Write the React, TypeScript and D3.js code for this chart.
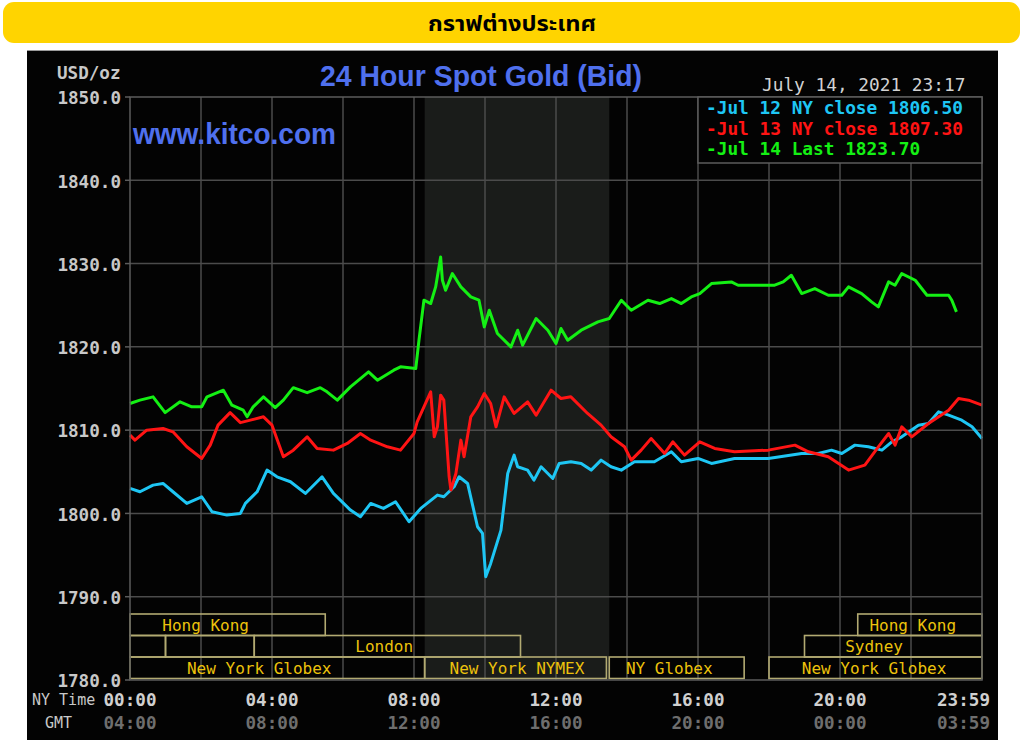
import React from "react";
import * as d3 from "d3";

// ---------- data ----------
const yTicks = [1850, 1840, 1830, 1820, 1810, 1800, 1790, 1780];
const xTickHours = [0, 4, 8, 12, 16, 20, 24];
const nyTimeLabels = ["00:00", "04:00", "08:00", "12:00", "16:00", "20:00", "23:59"];
const gmtLabels = ["04:00", "08:00", "12:00", "16:00", "20:00", "00:00", "03:59"];
const gridHours = [2, 4, 6, 8, 10, 12, 14, 16, 18, 20, 22];
const gridValues = [1790, 1800, 1810, 1820, 1830, 1840];

const jul12T = [0, 0.28, 0.65, 0.93, 1.21, 1.6, 2.02, 2.31, 2.73, 3.11, 3.25, 3.58, 3.86, 4.14, 4.52, 4.94, 5.41, 5.73, 6.21, 6.49, 6.78, 7.14, 7.48, 7.86, 8.19, 8.66, 8.84, 9.13, 9.27, 9.51, 9.79, 9.93, 10.02, 10.16, 10.45, 10.64, 10.82, 10.92, 11.2, 11.38, 11.58, 11.91, 12.09, 12.42, 12.71, 12.99, 13.27, 13.55, 13.84, 14.21, 14.77, 15.25, 15.53, 16.0, 16.38, 17.03, 17.98, 18.92, 19.39, 19.76, 20.05, 20.42, 20.8, 21.18, 21.46, 21.74, 22.21, 22.49, 22.78, 23.06, 23.43, 23.72, 24.0];
const jul12V = [1803.0, 1802.6, 1803.4, 1803.6, 1802.6, 1801.2, 1802.0, 1800.2, 1799.8, 1800.0, 1801.2, 1802.6, 1805.2, 1804.4, 1803.8, 1802.4, 1804.4, 1802.4, 1800.4, 1799.6, 1801.2, 1800.6, 1801.4, 1799.0, 1800.6, 1802.2, 1802.0, 1803.2, 1804.4, 1803.6, 1798.4, 1797.6, 1792.4, 1794.0, 1798.0, 1804.8, 1807.0, 1805.6, 1805.2, 1804.0, 1805.6, 1804.2, 1806.0, 1806.2, 1806.0, 1805.2, 1806.4, 1805.6, 1805.2, 1806.2, 1806.2, 1807.4, 1806.2, 1806.6, 1806.0, 1806.6, 1806.6, 1807.2, 1807.2, 1807.6, 1807.2, 1808.2, 1808.0, 1807.6, 1808.6, 1809.2, 1810.6, 1810.8, 1812.2, 1811.8, 1811.2, 1810.4, 1809.0];

const jul13T = [0, 0.14, 0.47, 0.93, 1.21, 1.6, 2.02, 2.26, 2.48, 2.82, 3.11, 3.39, 3.76, 4.0, 4.32, 4.6, 4.99, 5.27, 5.73, 6.12, 6.49, 6.78, 7.25, 7.62, 8.0, 8.09, 8.47, 8.57, 8.66, 8.75, 8.84, 8.99, 9.04, 9.18, 9.32, 9.41, 9.6, 9.79, 9.98, 10.16, 10.31, 10.54, 10.82, 11.2, 11.44, 11.86, 12.14, 12.42, 12.89, 13.27, 13.55, 13.93, 14.12, 14.4, 14.68, 15.06, 15.29, 15.62, 16.05, 16.47, 17.03, 17.98, 18.73, 19.11, 19.67, 20.24, 20.7, 21.08, 21.37, 21.55, 21.74, 22.02, 22.49, 23.06, 23.34, 23.62, 24.0];
const jul13V = [1809.4, 1808.8, 1810.0, 1810.2, 1809.8, 1808.0, 1806.6, 1808.2, 1810.6, 1812.1, 1810.9, 1811.2, 1811.6, 1810.6, 1806.8, 1807.6, 1809.2, 1807.8, 1807.6, 1808.4, 1809.6, 1808.8, 1808.0, 1807.6, 1809.6, 1811.0, 1814.6, 1809.2, 1810.4, 1814.2, 1813.6, 1804.4, 1802.8, 1804.8, 1808.8, 1806.8, 1811.6, 1812.8, 1814.4, 1813.2, 1810.4, 1814.0, 1812.0, 1813.4, 1811.8, 1814.8, 1813.8, 1814.0, 1812.0, 1810.6, 1809.2, 1808.0, 1806.4, 1807.6, 1809.0, 1807.2, 1808.6, 1807.0, 1808.6, 1807.8, 1807.4, 1807.6, 1808.2, 1807.4, 1806.8, 1805.2, 1805.8, 1808.0, 1809.6, 1808.2, 1810.4, 1809.2, 1810.8, 1812.4, 1813.8, 1813.6, 1813.0];

const jul14T = [0, 0.28, 0.65, 0.99, 1.41, 1.74, 2.02, 2.17, 2.63, 2.87, 3.19, 3.3, 3.47, 3.76, 4.09, 4.32, 4.6, 4.99, 5.36, 5.55, 5.84, 6.21, 6.72, 6.97, 7.43, 7.62, 8.05, 8.14, 8.28, 8.47, 8.61, 8.75, 8.8, 8.89, 9.08, 9.32, 9.6, 9.83, 9.98, 10.12, 10.35, 10.73, 10.92, 11.06, 11.44, 11.77, 12.0, 12.14, 12.33, 12.71, 13.18, 13.5, 13.84, 14.12, 14.59, 14.92, 15.25, 15.53, 15.81, 16.05, 16.38, 16.94, 17.13, 18.16, 18.4, 18.63, 18.92, 19.29, 19.67, 20.05, 20.24, 20.61, 20.89, 21.08, 21.37, 21.55, 21.74, 22.12, 22.45, 23.06, 23.15, 23.28];
const jul14V = [1813.2, 1813.6, 1814.0, 1812.1, 1813.4, 1812.8, 1812.8, 1814.0, 1814.8, 1813.0, 1812.4, 1811.6, 1812.8, 1814.0, 1812.7, 1813.6, 1815.1, 1814.5, 1815.1, 1814.6, 1813.6, 1815.2, 1817.0, 1816.0, 1817.2, 1817.6, 1817.4, 1820.8, 1825.6, 1825.2, 1827.2, 1830.8, 1828.0, 1826.8, 1828.8, 1827.2, 1826.0, 1825.6, 1822.4, 1824.4, 1821.6, 1820.0, 1822.0, 1820.2, 1823.4, 1822.0, 1820.4, 1822.2, 1820.8, 1822.0, 1823.0, 1823.4, 1825.6, 1824.4, 1825.6, 1825.2, 1825.8, 1825.2, 1826.0, 1826.4, 1827.6, 1827.8, 1827.4, 1827.4, 1827.8, 1828.6, 1826.4, 1827.0, 1826.2, 1826.2, 1827.2, 1826.4, 1825.4, 1824.8, 1827.8, 1827.4, 1828.8, 1828.0, 1826.2, 1826.2, 1825.6, 1824.2];

const legendLabels = ["-Jul 12 NY close 1806.50", "-Jul 13 NY close 1807.30", "-Jul 14 Last 1823.70"];
const seriesColors = ["#1ec6f4", "#ff1414", "#14f014"];

// sessions: row, start hour, end hour, label, label centre hour
const sessionRows = [0, 0, 1, 1, 1, 1, 2, 2, 2, 2];
const sessionStart = [0, 20.5, 0, 1, 3.5, 19, 0, 8.3, 13.5, 18];
const sessionEnd = [5.5, 24, 1, 3.5, 11, 24, 8.3, 13.42, 17.3, 24];
const sessionNames = ["Hong Kong", "Hong Kong", "", "", "London", "Sydney", "New York Globex", "New York NYMEX", "NY Globex", "New York Globex"];
const sessionLabelAt = [2.13, 22.05, 0, 0, 7.16, 20.96, 3.64, 10.9, 15.19, 20.96];

const nymexStart = 8.3;
const nymexEnd = 13.5;

const title = "24 Hour Spot Gold (Bid)";
const headerText = "กราฟต่างประเทศ";
const dateText = "July 14, 2021 23:17";

// ---------- layout ----------
const W = 1024;
const H = 740;
const PL = 130;
const PR = 982;
const PT = 97;
const PB = 680;
const rowTop = [614, 635.5, 657];
const rowH = 21.5;
const MONO = "'DejaVu Sans Mono', 'Liberation Mono', monospace";
const SANS = "'Liberation Sans', Arial, sans-serif";

export default function App() {
  const x = d3.scaleLinear().domain([0, 24]).range([PL, PR]);
  const y = d3.scaleLinear().domain([1780, 1850]).range([PB, PT]);
  const line = d3
    .line<[number, number]>()
    .x((d) => x(d[0]))
    .y((d) => y(d[1]))
    .curve(d3.curveLinear);

  const series = [
    d3.zip(jul12T, jul12V) as [number, number][],
    d3.zip(jul13T, jul13V) as [number, number][],
    d3.zip(jul14T, jul14V) as [number, number][],
  ];

  const gridColor = "#4b4b4b";
  const boxColor = "#b2aa72";
  const sessionText = "#ecc20c";

  return (
    <svg
      width={W}
      height={H}
      style={{ position: "absolute", left: 0, top: 0, display: "block", background: "#fff" }}
    >
      {/* header */}
      <rect x={3} y={2} width={1017} height={41} rx={11} fill="#ffd400" />
      <text
        x={512}
        y={31}
        textAnchor="middle"
        fontFamily="'Noto Sans Thai', 'Noto Sans', Tahoma, sans-serif"
        fontWeight="bold"
        fontSize={22}
        textLength={168}
        lengthAdjust="spacingAndGlyphs"
        fill="#000"
      >
        {headerText}
      </text>

      {/* black panel */}
      <rect x={27} y={50} width={971} height={700} fill="#030303" />
      <line x1={27} x2={998} y1={50.5} y2={50.5} stroke="#9a9a9a" strokeWidth={1} />

      {/* NYMEX shading */}
      <rect x={x(nymexStart)} y={PT} width={x(nymexEnd) - x(nymexStart)} height={PB - PT} fill="#1a1c1a" />

      {/* grid */}
      {gridHours.map((h) => (
        <line key={"gv" + h} x1={x(h)} x2={x(h)} y1={PT} y2={PB} stroke={gridColor} strokeWidth={1.5} />
      ))}
      {gridValues.map((v) => (
        <line key={"gh" + v} x1={PL} x2={PR} y1={y(v)} y2={y(v)} stroke={gridColor} strokeWidth={1.5} />
      ))}

      {/* sessions */}
      {sessionRows.map((r, i) => (
        <g key={"s" + i}>
          <rect
            x={x(sessionStart[i])}
            y={rowTop[r]}
            width={x(sessionEnd[i]) - x(sessionStart[i])}
            height={rowH}
            fill="none"
            stroke={boxColor}
            strokeWidth={1.6}
          />
          {sessionNames[i] && (
            <text
              x={x(sessionLabelAt[i])}
              y={rowTop[r] + rowH / 2}
              dy="0.36em"
              textAnchor="middle"
              fontFamily={MONO}
              fontSize={16}
              fill={sessionText}
            >
              {sessionNames[i]}
            </text>
          )}
        </g>
      ))}

      {/* lines */}
      {series.map((s, i) => (
        <path
          key={"l" + i}
          d={line(s) || ""}
          fill="none"
          stroke={seriesColors[i]}
          strokeWidth={3}
          strokeLinejoin="round"
        />
      ))}

      {/* plot frame */}
      <rect x={PL} y={PT} width={PR - PL} height={PB - PT} fill="none" stroke="#5c5c5c" strokeWidth={1.5} />

      {/* legend */}
      <rect x={698} y={PT} width={PR - 698} height={66} fill="#030303" stroke="#5c5c5c" strokeWidth={1.5} />
      {legendLabels.map((l, i) => (
        <text
          key={"lg" + i}
          x={706}
          y={108 + i * 20.5}
          dy="0.36em"
          fontFamily={MONO}
          fontWeight="bold"
          fontSize={17.8}
          fill={seriesColors[i]}
        >
          {l}
        </text>
      ))}

      {/* titles */}
      <text
        x={481}
        y={86}
        textAnchor="middle"
        fontFamily={SANS}
        fontWeight="bold"
        fontSize={29}
        textLength={322}
        lengthAdjust="spacingAndGlyphs"
        fill="#4f70ee"
      >
        {title}
      </text>
      <text
        x={133}
        y={144}
        fontFamily={SANS}
        fontWeight="bold"
        fontSize={29}
        textLength={203}
        lengthAdjust="spacingAndGlyphs"
        fill="#4f70ee"
      >
        www.kitco.com
      </text>
      <text x={57} y={73} dy="0.36em" fontFamily={MONO} fontWeight="bold" fontSize={17.6} fill="#c8c8c8">
        USD/oz
      </text>
      <text x={762} y={85} dy="0.36em" fontFamily={MONO} fontSize={17.8} fill="#d2d2d2">
        {dateText}
      </text>

      {/* y axis */}
      {yTicks.map((v) => (
        <g key={"yt" + v}>
          <line x1={125} x2={PL} y1={y(v)} y2={y(v)} stroke="#5c5c5c" strokeWidth={1.5} />
          <text
            x={121}
            y={y(v) + 1}
            dy="0.36em"
            textAnchor="end"
            fontFamily={MONO}
            fontWeight="bold"
            fontSize={17.6}
            fill="#c8c8c8"
          >
            {v.toFixed(1)}
          </text>
        </g>
      ))}

      {/* x axis */}
      <text x={32} y={700} dy="0.36em" fontFamily={MONO} fontSize={15} fill="#c8c8c8">
        NY Time
      </text>
      <text x={45} y={723} dy="0.36em" fontFamily={MONO} fontSize={15} fill="#c8c8c8">
        GMT
      </text>
      {xTickHours.map((h, i) => {
        const last = i === xTickHours.length - 1;
        const tx = last ? x(h) + 8 : x(h);
        const anchor = last ? "end" : "middle";
        return (
          <g key={"xt" + h}>
            <text
              x={tx}
              y={700}
              dy="0.36em"
              textAnchor={anchor}
              fontFamily={MONO}
              fontWeight="bold"
              fontSize={17.6}
              fill="#d0d0d0"
            >
              {nyTimeLabels[i]}
            </text>
            <text
              x={tx}
              y={723}
              dy="0.36em"
              textAnchor={anchor}
              fontFamily={MONO}
              fontWeight="bold"
              fontSize={17.6}
              fill="#6e6e6e"
            >
              {gmtLabels[i]}
            </text>
          </g>
        );
      })}
    </svg>
  );
}
